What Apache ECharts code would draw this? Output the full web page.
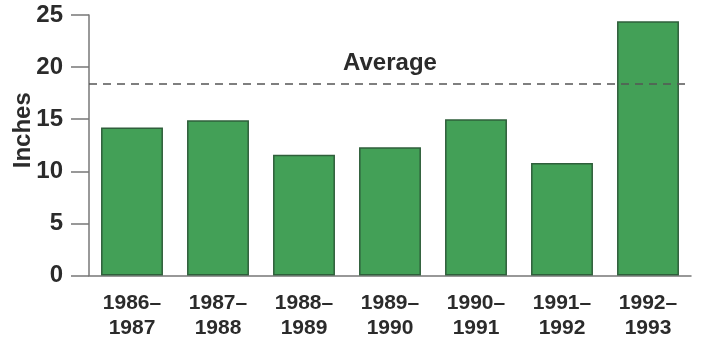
<!DOCTYPE html>
<html>
<head>
<meta charset="utf-8">
<script src="https://cdn.jsdelivr.net/npm/echarts@6/dist/echarts.min.js"></script>
<style>
  html, body { margin: 0; padding: 0; background: #fff; }
  #chart { width: 701px; height: 341px; }
</style>
</head>
<body>
<div id="chart"></div>
<script>
// data
const seasons = ['1986–\n1987', '1987–\n1988', '1988–\n1989', '1989–\n1990', '1990–\n1991', '1991–\n1992', '1992–\n1993']
const rainfall = [14.2, 14.9, 11.6, 12.3, 15.0, 10.8, 24.4]
const averageValue = 18.4
const yTicks = [0, 5, 10, 15, 20, 25]

const chart = echarts.init(document.getElementById('chart'))

const textColor = '#2b2b2b'
const fontFamily = '"Liberation Sans", Arial, sans-serif'

const options = {
  animation: false,
  grid: {
    left: 89,
    right: 10,
    top: 15,
    bottom: 65.5,
    outerBoundsMode: 'none',
    containLabel: false
  },
  xAxis: {
    type: 'category',
    data: seasons,
    axisTick: { show: false },
    axisLine: { lineStyle: { color: '#777', width: 1.5 } },
    axisLabel: {
      color: textColor,
      fontFamily: fontFamily,
      fontWeight: 'bold',
      fontSize: 21,
      lineHeight: 25,
      margin: 15
    }
  },
  yAxis: {
    type: 'value',
    min: yTicks[0],
    max: yTicks[yTicks.length - 1],
    interval: 5,
    name: 'Inches',
    nameLocation: 'middle',
    nameGap: 54,
    nameMoveOverlap: false,
    nameTextStyle: {
      color: textColor,
      fontFamily: fontFamily,
      fontWeight: 'bold',
      fontSize: 24,
      padding: [0, 0, 0, 30]
    },
    splitLine: { show: false },
    axisLine: { show: true, lineStyle: { color: '#777', width: 1.5 } },
    axisTick: { show: true, length: 18, lineStyle: { color: '#777', width: 1.5 } },
    axisLabel: {
      color: textColor,
      fontFamily: fontFamily,
      fontWeight: 'bold',
      fontSize: 24,
      margin: 26
    }
  },
  series: [
    {
      type: 'bar',
      data: rainfall,
      barCategoryGap: '28%',
      itemStyle: {
        color: '#43a057',
        borderColor: '#2f5f3b',
        borderWidth: 1.5
      },
      markLine: {
        symbol: 'none',
        silent: true,
        lineStyle: { color: '#555', type: [8, 6], width: 1.5 },
        label: {
          show: true,
          position: 'middle',
          formatter: 'Average',
          color: textColor,
          fontFamily: fontFamily,
          fontWeight: 'bold',
          fontSize: 24,
          distance: 8
        },
        data: [{ yAxis: averageValue }]
      }
    }
  ]
}

chart.setOption(options)

window.addEventListener('resize', () => {
  chart.resize()
})
</script>
</body>
</html>
